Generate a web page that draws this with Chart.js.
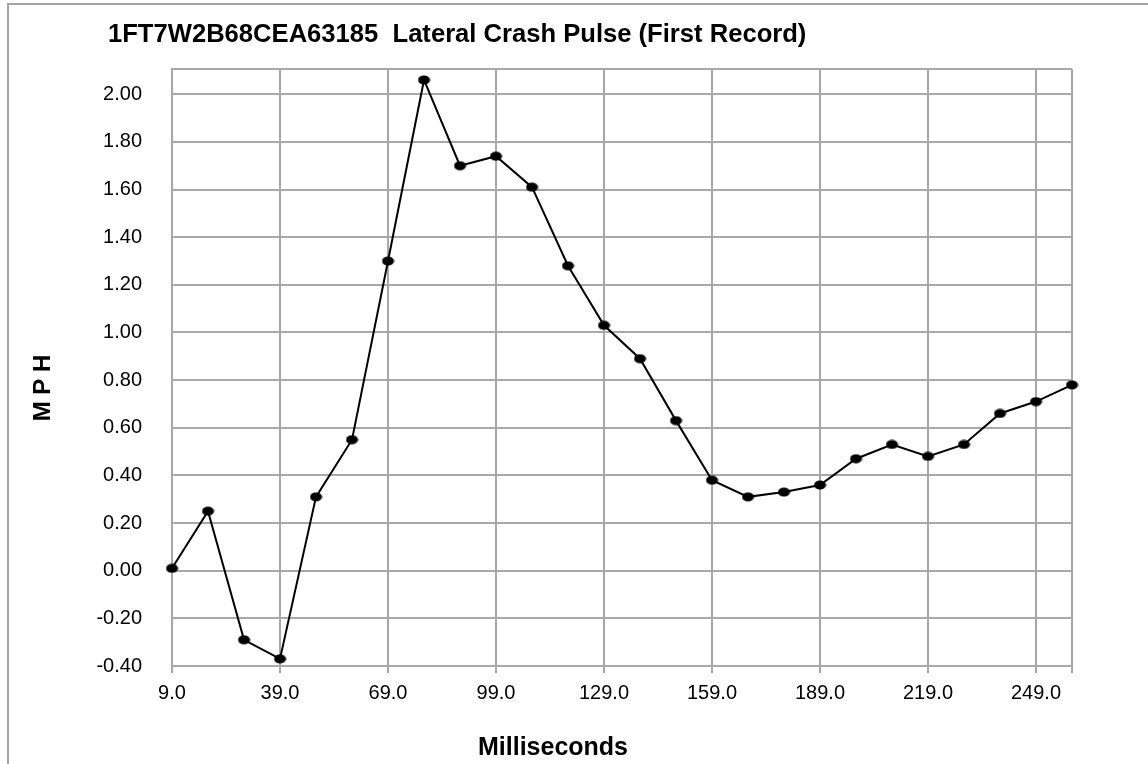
<!DOCTYPE html>
<html lang="en">
<head>
    <meta charset="UTF-8">
    <title>Lateral Crash Pulse</title>
    <script src="https://cdn.jsdelivr.net/npm/chart.js"></script>
    <style>
        html, body { margin: 0; padding: 0; background: #fff; overflow: hidden; }
        #frame {
            position: absolute; left: 7px; top: 3px; width: 1300px; height: 900px;
            border-left: 2px solid #a3a3a3; border-top: 2px solid #a3a3a3;
        }
        #crashChart { position: absolute; left: 0; top: 0; }
    </style>
</head>
<body>
    <div id="frame"></div>
    <canvas id="crashChart" width="1148" height="764"></canvas>

    <script>
        // milliseconds (one record every 10 ms)
        const msLabels = [9, 19, 29, 39, 49, 59, 69, 79, 89, 99, 109, 119, 129,
                          139, 149, 159, 169, 179, 189, 199, 209, 219, 229, 239, 249, 259];
        // lateral delta-V, MPH
        const mphValues = [0.01, 0.25, -0.29, -0.37, 0.31, 0.55, 1.30, 2.06, 1.70, 1.74, 1.61, 1.28, 1.03,
                           0.89, 0.63, 0.38, 0.31, 0.33, 0.36, 0.47, 0.53, 0.48, 0.53, 0.66, 0.71, 0.78];
        const yMin = -0.4;
        const yMax = 2.106;
        const yStep = 0.2;

        const chartTitle = '1FT7W2B68CEA63185  Lateral Crash Pulse (First Record)';
        const xTitle = 'Milliseconds';
        const yTitle = 'M P H';

        const gridGray = '#a8a8a8';
        const fontFamily = '"Liberation Sans", Arial, sans-serif';

        // slightly wide ellipse marker like the original
        const marker = document.createElement('canvas');
        marker.width = 13;
        marker.height = 10;
        const mctx = marker.getContext('2d');
        mctx.fillStyle = '#000';
        mctx.beginPath();
        mctx.ellipse(6.5, 5, 6, 4.5, 0, 0, Math.PI * 2);
        mctx.fill();

        // titles are placed freely, like in the spreadsheet
        const textPlugin = {
            id: 'freeText',
            afterDraw(chart) {
                const c = chart.ctx;
                c.save();
                c.fillStyle = '#000';
                c.font = 'bold 25.6px ' + fontFamily;
                c.textAlign = 'left';
                c.textBaseline = 'alphabetic';
                c.fillText(chartTitle, 108, 42);

                c.font = 'bold 25px ' + fontFamily;
                c.textAlign = 'center';
                c.fillText(xTitle, 553, 755);

                c.font = 'bold 24px ' + fontFamily;
                c.translate(50, 388);
                c.rotate(-Math.PI / 2);
                c.fillText(yTitle, 0, 0);
                c.restore();
            }
        };

        function xGridColor(ctx) {
            const i = ctx.index;
            return (i % 3 === 0 || i === msLabels.length - 1) ? gridGray : 'rgba(0,0,0,0)';
        }

        const ctx = document.getElementById('crashChart').getContext('2d');
        const crashChart = new Chart(ctx, {
            type: 'line',
            data: {
                labels: msLabels,
                datasets: [{
                    data: mphValues,
                    borderColor: '#000',
                    borderWidth: 2,
                    tension: 0,
                    pointStyle: marker,
                    pointRadius: 6,
                    fill: false
                }]
            },
            options: {
                responsive: false,
                animation: false,
                layout: { padding: { top: 69, right: 76, left: 0, bottom: 0 } },
                plugins: {
                    legend: { display: false },
                    tooltip: { enabled: false }
                },
                scales: {
                    x: {
                        type: 'category',
                        offset: false,
                        afterFit: scale => { scale.height = 98; },
                        grid: {
                            color: xGridColor,
                            tickColor: xGridColor,
                            lineWidth: 2,
                            tickLength: 7
                        },
                        border: { color: gridGray, width: 2 },
                        ticks: {
                            autoSkip: false,
                            maxRotation: 0,
                            padding: 8,
                            color: '#000',
                            font: { family: fontFamily, size: 20 },
                            callback: function(value, index) {
                                return index % 3 === 0 ? msLabels[index].toFixed(1) : '';
                            }
                        }
                    },
                    y: {
                        min: yMin,
                        max: yMax,
                        afterFit: scale => { scale.width = 172; },
                        grid: {
                            color: gridGray,
                            lineWidth: 2,
                            drawTicks: false
                        },
                        border: { color: gridGray, width: 2 },
                        ticks: {
                            stepSize: yStep,
                            padding: 30,
                            color: '#000',
                            font: { family: fontFamily, size: 20 },
                            callback: function(value) {
                                const k = value / yStep;
                                return Math.abs(k - Math.round(k)) < 1e-6 ? value.toFixed(2) : '';
                            }
                        }
                    }
                }
            },
            plugins: [textPlugin]
        });
    </script>
</body>
</html>
